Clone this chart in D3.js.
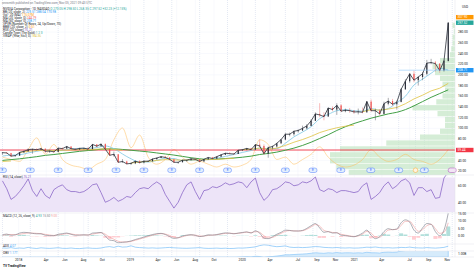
<!DOCTYPE html>
<html>
<head>
<meta charset="utf-8">
<script src="https://cdn.jsdelivr.net/npm/d3@7"></script>
<style>
body { margin: 0; background: #fff; }
svg { display: block; font-family: Roboto, "Liberation Sans", sans-serif; }
</style>
</head>
<body>
<div id="chart"></div>
<script>
// biweekly bars, NVDA split adjusted, first bar 2017-11-09
var barStart = "2017-11-09";
var closes = [54.5,54,48,49,55,57,60,61,60,62,57,57.5,56,63,62,66,62,60.5,62.5,63,61,70,66.5,70.5,61,49.5,51.5,36.5,38,33.5,
  34.5,38.5,36,38.5,38.5,42.5,44.5,47,45.5,42,36.5,36.5,40.5,40.5,43,42,38,42,45.5,43.5,47,50.5,53.5,52.5,52,59,
  60,62.5,60,69.5,67,52.5,64,66,72,79,89,89,94.5,96,100,104.5,114,127,125,122,138,135,143,132,134,133,130.5,
  131,130,150,133,133,127,146,151,145,149,173,188,202,190,196,202,222,223,221,208,226,297.5];
var highs = [55.5,55,50.5,49.5,55.5,58.5,62.5,62,63,63.5,62,58.5,57.5,64,64.5,67,66.5,62.5,63.5,63.5,65,70.5,70,72,72,62,56.5,51.5,42.5,39.5,
  36,39.5,40.5,40.5,40,44,45.5,48,48.5,46,43,37.5,41,41.5,43.5,44.5,42,42.5,46,46.5,47.5,51.5,54,55.5,53.5,59.5,
  60.5,63,63.5,70,79,70,66,68,73,80,91.5,92,96,98,105,108,117,130,147,130,139,141,147,145,137,138,134,
  137,139,151,154,137,136,150,157,155,152,175,192,203,208,198,205,228,230,226,222,228,298.5];
var lows = [50.5,52.5,46.5,47,48.5,54,56.5,52.5,58.5,59,53.5,54,53.5,56,61,62,61.5,59,60,60.5,60,61.5,65,66,60,49,47,35.5,36,32.5,
  31.5,33,33.5,34,38,38,41,44.5,44,40.5,35.5,33.5,36.5,37.5,40,40.5,36.5,37.5,41.5,42.5,42.5,46.5,50,51.5,50.5,52,
  57.5,59,59,60.5,64,51.5,45,60.5,64,70.5,78,85,86,92,95,98,104,115,121,115,122,132,125,131,130,129,127,
  126,128,129,131,115,124,126,143,142,135,150,172,185,186,180,190,199,220,206,204,206,225];

// readings taken every 4 weeks (every second bar)
var ma50 = [48,50,50.5,54,57,59.5,58,58.5,62,62.5,62.5,64,67,62,52,43,37,37,40,44,43.5,39.5,40,41,41.5,44,47.5,51,
  55,58.5,63,62,62,72,84,93,103,118,126,133,135,133,132,137,134,137,148,160,181,192,203,212,209];
var ma200 = [40,41.5,43,45,47,49.5,51,53,55,57,58.5,60,61.5,61.5,60.5,59,57.5,56,54,52,50,47.5,45,43,42,42.5,43.5,44.5,
  46,48,51,53,55.5,59,63,68,74,81,88,96,103,109,114,119,123,127,130,135,142,150,158,165,172];
var vwap = [38,39,55,57,58.5,59,58.5,59,59.5,60,60,61,61.5,60.5,59,35,37,38,40,41.5,41,40.5,41,41,41.5,42,43,44,
  60,61,63,61,63,68,74,79,85,92,97,101,104,106,131,135,134,136,139,146,155,162,170,175,184];
var bbw = [0.38,0.33,0.29,0.54,0.79,0.44,0.65,0.33,0.21,0.17,0.12,0.23,0.33,0.75,1.0,0.58,0.85,0.38,0.23,0.33,0.54,0.38,0.23,0.29,
  0.23,0.17,0.23,0.17,0.21,0.33,0.75,0.65,0.33,0.38,0.23,0.33,0.44,0.60,0.38,0.23,0.17,0.21,0.33,0.54,0.38,0.29,0.33,0.44,0.33,0.29,0.23,0.33,0.54];

var rsi = [66.1,57,44.6,48,53.7,60.4,68.3,54.8,48,57,49.2,45.8,55.9,59.3,61.5,55.9,53.7,53.7,52.5,53.7,57,61.5,62.7,52.5,41.3,43.5,46.9,42.4,44.6,48,
  46.9,52.5,57,58.2,57,61.5,64.9,61.5,50.3,42.4,34.5,41.3,52.5,61.5,64.9,53.7,44.6,54.8,55.9,59.3,58.2,60.4,63.8,61.5,62.7,64.9,
  63.8,58.2,64.9,69.4,52.5,43.5,48,55.9,57,60.4,64.9,63.8,60.4,61.5,64.9,63.8,66.1,70.6,55.9,53.7,57,55.9,52.5,54.8,54.8,53.7,52.5,
  53.7,60.4,63.8,44.6,48,52.5,60.4,64.9,57,60.4,66.1,68.3,63.8,49.2,58.2,58.2,53.7,55.9,45.8,46.9,69.4,76.2];
var macd = [0.7,1.3,0.5,0.8,2,2.5,2.3,1.8,1.5,1.5,0.5,0.3,0.2,1.2,1.6,2,1.2,0.5,0.6,0.8,0.6,2,2.2,2.4,0,-2.8,-3.2,-4.6,-4.3,-4,
  -3.4,-2.4,-1.6,-0.7,0.2,1,1.6,1.8,1,-0.4,-1.6,-1.2,0,0.6,0.9,0.4,-0.4,0,0.8,0.6,1,1.6,2.1,1.9,1.5,2,
  2.4,2.8,2,3.5,2,-1.5,-1.8,-0.5,1.2,2.5,4,3.8,3.4,3.4,3.8,5.2,7,8.5,5.5,2.5,3,2,2.2,0.5,0.3,-0.2,-0.5,
  0.4,2,4,0.5,-1.8,-0.5,3,5,4.3,4.8,9,11,9.5,4,2,5.5,8.5,8,3,0.2,4,15.5];
var signal = [0.5,0.8,1,0.9,1.2,1.7,2,2,1.8,1.6,1.1,0.7,0.4,0.7,1.1,1.6,1.4,0.9,0.7,0.7,0.7,1.3,1.8,2.2,1.2,-0.8,-2.2,-3.6,-4.1,-4.1,
  -3.7,-2.9,-2.1,-1.2,-0.4,0.5,1.2,1.6,1.3,0.4,-0.9,-1.2,-0.5,0.3,0.7,0.6,0,-0.1,0.4,0.6,0.8,1.3,1.8,1.9,1.7,1.8,
  2.2,2.6,2.3,3,2.5,0.2,-1.3,-1,0.4,1.8,3.2,3.7,3.5,3.4,3.6,4.6,6.2,7.8,6.8,3.8,3,2.4,2.2,1.2,0.6,0.1,-0.3,
  0,1.2,3.1,2,-0.6,-0.8,1.5,4,4.4,4.6,7.2,10,10,6.5,3.2,4.3,7,8,5,1.8,2.6,9];
var adx = [2.1,1.8,2.4,1.6,2.0,1.7,2.6,1.9,1.5,2.2,1.8,1.6,1.9,2.3,1.7,1.6,2.0,1.5,1.4,1.8,2.1,1.7,1.6,2.0,2.9,3.4,2.6,3.8,2.9,3.1,
  4.2,2.8,2.4,2.2,1.9,2.1,1.8,2.0,2.3,2.6,2.2,2.0,1.8,1.7,1.9,2.1,2.4,1.8,1.6,1.7,1.9,1.6,1.8,1.5,1.6,2.0,
  1.9,2.2,2.6,3.1,4.4,5.2,4.8,3.9,3.3,3.6,4.1,2.9,2.5,2.7,2.4,2.6,3.0,3.4,3.2,2.6,2.4,2.2,2.5,2.1,2.0,2.2,1.9,
  2.0,2.3,2.8,2.6,3.0,2.4,2.1,2.3,2.0,2.2,2.6,2.4,2.9,2.3,2.1,2.0,2.4,2.1,1.9,2.2,2.6,3.8];
var obv = [-2.2,-2.2,-2.25,-2.25,-2.2,-2.2,-2.15,-2.2,-2.2,-2.15,-2.2,-2.2,-2.2,-2.15,-2.15,-2.1,-2.15,-2.15,-2.1,-2.1,-2.15,-2.1,-2.1,-2.05,-2.2,-2.35,-2.35,-2.5,-2.45,-2.55,
  -2.5,-2.4,-2.45,-2.4,-2.4,-2.3,-2.25,-2.2,-2.25,-2.3,-2.4,-2.4,-2.3,-2.3,-2.25,-2.25,-2.3,-2.25,-2.2,-2.2,-2.1,-2.0,-1.95,-1.95,-1.95,-1.85,
  -1.8,-1.75,-1.8,-1.65,-1.7,-1.9,-1.75,-1.7,-1.6,-1.5,-1.35,-1.35,-1.3,-1.25,-1.2,-1.15,-1.05,-0.95,-1.0,-1.05,-0.95,-1.0,-0.9,-1.0,-0.95,-0.95,-1.0,
  -0.95,-1.0,-0.85,-0.95,-0.95,-1.0,-0.85,-0.8,-0.85,-0.8,-0.6,-0.5,-0.4,-0.5,-0.45,-0.4,-0.25,-0.25,-0.3,-0.35,-0.25,0.05];

// volume profile rows, bottom to top
var vpLow = 12, vpStep = 11;
var vpRows = [0.85,0.95,1,1,0.92,0.55,0.28,0.12,0.08,0.08,0.14,0.34,0.15,0.1,0.08,0.1,0.12,0.16,0.18,0.12,0.04,0.03,0.02,0.02,0.01,0.02];

var earnings = ["2017-11-09","2018-02-08","2018-05-10","2018-08-16","2018-11-15","2019-02-14","2019-05-16","2019-08-15",
  "2019-11-14","2020-02-13","2020-05-21","2020-08-19","2020-11-18","2021-02-24","2021-05-26","2021-08-18"];
var nextEarnings = "2021-11-17";
var splitDate = "2021-07-20";
var redLevel = 59.44;
var blueLevel = 208.71;

var tickDates = ["2018-01-01","2018-04-01","2018-06-01","2018-08-01","2018-10-01","2019-01-01","2019-04-01","2019-06-01","2019-08-01","2019-10-01",
  "2020-01-01","2020-04-01","2020-07-01","2020-09-01","2020-11-01","2021-01-01","2021-04-01","2021-07-01","2021-09-01","2021-11-01"];
var tickLabels = ["2018","Apr","Jun","Aug","Oct","2019","Apr","Jun","Aug","Oct","2020","Apr","Jul","Sep","Nov","2021","Apr","Jul","Sep","Nov"];
var priceTicks = [20,40,60,80,100,120,140,160,180,200,220,240,260,280];
var rsiTicks = [40, 60, 80];
var macdTicks = [0, 5, 10, 15];

// legend: [label, value text, value colour]
var legend = [
  ["NVIDIA Corporation · 1D, NASDAQ", "O 270.05  H 298.50  L 268.35  C 297.52  +32.23 (+12.15%)", "#26a69a"],
  ["BB (20, close, 2)", "229.51  288.04  170.98", "#2196f3"],
  ["Vol · 20  (MA)", "115.07M", "#ff9800"],
  ["MA (20, close, 0)", "244.79", "#ef5350"],
  ["MA (50, close, 0)", "208.71", "#2196f3"],
  ["VPVR (Number Of Rows, 24, Up/Down, 70)", "", "#131722"],
  ["BBW (20, close, 2)", "0.51", "#ff9800"],
  ["RSX (20, close)", "76.21", "#7e57c2"],
  ["Candle Type (The Gold)", "1  2  3", "#26a69a"],
  ["VWAP (Year, hlc3, 0)", "184.36", "#e0c341"]
];

var W = 474, H = 271, R = 455;
var parse = d3.timeParse("%Y-%m-%d");
var x = d3.scaleTime().domain([new Date(2017, 10, 1), new Date(2021, 10, 26)]).range([0, R]);
var dates = closes.map(function(d, i) { return d3.timeDay.offset(parse(barStart), 14 * i); });
var dates4 = ma50.map(function(d, i) { return dates[2 * i]; });

var main = {top: 0, bottom: 175};
var rp = {top: 175, bottom: 213};
var mp = {top: 213, bottom: 244};
var ap = {top: 244, bottom: 251};
var op = {top: 251, bottom: 257};

var y = d3.scaleLinear().domain([0, 340]).range([181.8, 0]);
var yr = d3.scaleLinear().domain([30, 70]).range([212, 177.5]);
var ym = d3.scaleLinear().domain([0, 15]).range([236, 214]);
var ya = d3.scaleLinear().domain([0, 6]).range([250, 244]);
var yo = d3.scaleLinear().domain([-2, 0.2]).range([258, 247]);
var yb = d3.scaleLinear().domain([0, 1]).range([175, 128]);

var svg = d3.select("#chart").append("svg")
    .attr("width", W)
    .attr("height", H);

svg.append("rect").attr("width", W).attr("height", H).attr("fill", "#fff");

var defs = svg.append("defs");
[["cMain", main], ["cRsi", rp], ["cMacd", mp], ["cAdx", ap], ["cObv", op]].forEach(function(c) {
  defs.append("clipPath").attr("id", c[0]).append("rect")
    .attr("x", 0).attr("y", c[1].top).attr("width", R).attr("height", c[1].bottom - c[1].top);
});

// grid
var grid = svg.append("g");
grid.selectAll(".hg").data(priceTicks).enter().append("line")
    .attr("x1", 0).attr("x2", R)
    .attr("y1", function(d) { return y(d); }).attr("y2", function(d) { return y(d); })
    .attr("stroke", "#f0f3fa").attr("stroke-width", 0.5);
grid.selectAll(".vg").data(tickDates).enter().append("line")
    .attr("x1", function(d) { return x(parse(d)); }).attr("x2", function(d) { return x(parse(d)); })
    .attr("y1", 0).attr("y2", op.bottom)
    .attr("stroke", "#f0f3fa").attr("stroke-width", 0.5);
grid.selectAll(".eg").data(earnings.concat([splitDate, nextEarnings])).enter().append("line")
    .attr("x1", function(d) { return x(parse(d)); }).attr("x2", function(d) { return x(parse(d)); })
    .attr("y1", 0).attr("y2", op.bottom)
    .attr("stroke", "#c9d3e6").attr("stroke-width", 0.5).attr("stroke-dasharray", "1,1");

// main pane
var g = svg.append("g").attr("clip-path", "url(#cMain)");

// volume profile
g.selectAll(".vp").data(vpRows).enter().append("rect")
    .attr("x", function(d) { return R - d * 125; })
    .attr("width", function(d) { return d * 125; })
    .attr("y", function(d, i) { return y(vpLow + (i + 1) * vpStep) + 0.3; })
    .attr("height", function(d, i) { return y(vpLow + i * vpStep) - y(vpLow + (i + 1) * vpStep) - 0.6; })
    .attr("fill", "#c3e6c5").attr("opacity", 0.7);

// BBW overlay
g.append("path").datum(bbw)
    .attr("fill", "none").attr("stroke", "#ffb74d").attr("stroke-width", 0.6).attr("opacity", 0.8)
    .attr("d", d3.line().curve(d3.curveMonotoneX)
      .x(function(d, i) { return x(dates4[i]); }).y(function(d) { return yb(d); }));

// red level
g.append("line").attr("x1", 0).attr("x2", R).attr("y1", y(redLevel)).attr("y2", y(redLevel))
    .attr("stroke", "#f23645").attr("stroke-width", 0.9);

var maLine = function(arr, color, w) {
  g.append("path").datum(arr)
    .attr("fill", "none").attr("stroke", color).attr("stroke-width", w)
    .attr("d", d3.line().curve(d3.curveMonotoneX)
      .x(function(d, i) { return x(dates4[i]); }).y(function(d) { return y(d); }));
};
maLine(ma200, "#43a047", 1);
maLine(ma50, "#7ec8e3", 0.8);

// yearly VWAP, one segment per year
var years = d3.groups(vwap.map(function(v, i) { return {d: dates4[i], v: v}; }), function(p) { return p.d.getFullYear(); });
years.forEach(function(yr0) {
  g.append("path").datum(yr0[1])
    .attr("fill", "none").attr("stroke", "#e0c341").attr("stroke-width", 0.8)
    .attr("d", d3.line().x(function(p) { return x(p.d); }).y(function(p) { return y(p.v); }));
});

// candles
var upDown = function(d, i) { return i > 0 && d < closes[i - 1] ? "#ef5350" : "#2a2e39"; };
var bars = g.selectAll(".bar").data(closes).enter().append("g");
bars.append("line")
    .attr("x1", function(d, i) { return x(dates[i]); }).attr("x2", function(d, i) { return x(dates[i]); })
    .attr("y1", function(d, i) { return y(highs[i]); }).attr("y2", function(d, i) { return y(lows[i]); })
    .attr("stroke", upDown).attr("stroke-width", 0.4);
bars.append("rect")
    .attr("x", function(d, i) { return x(dates[i]) - 0.6; })
    .attr("width", 1.2)
    .attr("y", function(d, i) { var o = i > 0 ? closes[i - 1] : d; return y(Math.max(o, d)); })
    .attr("height", function(d, i) { var o = i > 0 ? closes[i - 1] : d; return Math.max(0.5, Math.abs(y(o) - y(d))); })
    .attr("fill", upDown);
g.append("path").datum(closes)
    .attr("fill", "none").attr("stroke", "#2a2e39").attr("stroke-width", 0.8)
    .attr("d", d3.line().x(function(d, i) { return x(dates[i]); }).y(function(d) { return y(d); }));

g.append("line").attr("x1", x(parse("2021-05-26"))).attr("x2", R).attr("y1", y(blueLevel)).attr("y2", y(blueLevel))
    .attr("stroke", "#90caf9").attr("stroke-width", 0.6);

// event icons
var icons = svg.append("g");
earnings.forEach(function(d) {
  var cx = x(parse(d));
  icons.append("rect").attr("x", cx - 4).attr("y", 168).attr("width", 8).attr("height", 4.5).attr("rx", 2)
    .attr("fill", "#e3effd").attr("stroke", "#2962ff").attr("stroke-width", 0.4);
  icons.append("text").attr("x", cx).attr("y", 171.4).attr("text-anchor", "middle")
    .attr("font-size", 3).attr("fill", "#2962ff").text("E");
});
icons.append("circle").attr("cx", x(parse(splitDate))).attr("cy", 170.2).attr("r", 2.3)
    .attr("fill", "#fff3e0").attr("stroke", "#ff9800").attr("stroke-width", 0.4);
icons.append("rect").attr("x", x(parse(nextEarnings)) - 4).attr("y", 168).attr("width", 8).attr("height", 4.5).attr("rx", 2)
    .attr("fill", "#f3e5f5").attr("stroke", "#9c27b0").attr("stroke-width", 0.4);

// RSI pane
var gr = svg.append("g");
gr.append("rect").attr("x", 0).attr("width", R).attr("y", yr(70)).attr("height", yr(30) - yr(70)).attr("fill", "#ede4f8");
gr.append("path").datum(rsi).attr("clip-path", "url(#cRsi)")
    .attr("fill", "none").attr("stroke", "#7e57c2").attr("stroke-width", 0.7)
    .attr("d", d3.line().x(function(d, i) { return x(dates[i]); }).y(function(d) { return yr(d); }));

// MACD pane
var gm = svg.append("g").attr("clip-path", "url(#cMacd)");
gm.selectAll(".hist").data(macd).enter().append("rect")
    .attr("x", function(d, i) { return x(dates[i]) - 2; })
    .attr("width", 4)
    .attr("y", function(d, i) { return Math.min(ym(0), ym(d - signal[i])); })
    .attr("height", function(d, i) { return Math.abs(ym(d - signal[i]) - ym(0)); })
    .attr("fill", function(d, i) { return d - signal[i] >= 0 ? "#b2dfdb" : "#ffcdd2"; });
gm.append("path").datum(signal).attr("fill", "none").attr("stroke", "#ef9a9a").attr("stroke-width", 0.6)
    .attr("d", d3.line().curve(d3.curveMonotoneX).x(function(d, i) { return x(dates[i]); }).y(function(d) { return ym(d); }));
gm.append("path").datum(macd).attr("fill", "none").attr("stroke", "#787b86").attr("stroke-width", 0.6)
    .attr("d", d3.line().curve(d3.curveMonotoneX).x(function(d, i) { return x(dates[i]); }).y(function(d) { return ym(d); }));

// ADX / OBV panes
svg.append("path").datum(adx).attr("clip-path", "url(#cAdx)")
    .attr("fill", "none").attr("stroke", "#42a5f5").attr("stroke-width", 0.5)
    .attr("d", d3.line().x(function(d, i) { return x(dates[i]); }).y(function(d) { return ya(d); }));
svg.append("path").datum(obv).attr("clip-path", "url(#cObv)")
    .attr("fill", "#d6ebfb").attr("stroke", "#64b5f6").attr("stroke-width", 0.5)
    .attr("d", d3.area().x(function(d, i) { return x(dates[i]); }).y0(op.bottom).y1(function(d) { return yo(d); }));

// pane borders
[rp.top, mp.top, ap.top, op.top, op.bottom].forEach(function(v) {
  svg.append("line").attr("x1", 0).attr("x2", W).attr("y1", v).attr("y2", v).attr("stroke", "#e0e3eb").attr("stroke-width", 0.5);
});
svg.append("line").attr("x1", R).attr("x2", R).attr("y1", 0).attr("y2", op.bottom).attr("stroke", "#e0e3eb").attr("stroke-width", 0.5);

// right axis
var ax = svg.append("g").attr("font-size", 3.2).attr("fill", "#131722");
ax.selectAll(".pt").data(priceTicks).enter().append("text")
    .attr("x", R + 3).attr("y", function(d) { return y(d) + 1.1; }).text(function(d) { return d3.format(".2f")(d); });
ax.append("text").attr("x", R + 7).attr("y", 8).text("USD");
var tag = function(v, fill, label, sc) {
  ax.append("rect").attr("x", R + 1).attr("y", sc(v) - 2.2).attr("width", 17.5).attr("height", 4.4).attr("fill", fill);
  ax.append("text").attr("x", R + 2.5).attr("y", sc(v) + 1.1).attr("fill", "#fff").text(label);
};
tag(307.9, "#ff9800", "307.90", y);
tag(297.52, "#26a69a", "297.52", y);
tag(blueLevel, "#2196f3", "208.71", y);
tag(redLevel, "#f23645", "59.44", y);
rsiTicks.forEach(function(v) {
  if (yr(v) > rp.top + 4) ax.append("text").attr("x", R + 3).attr("y", yr(v) + 1.1).text(d3.format(".2f")(v));
});
macdTicks.forEach(function(v) {
  ax.append("text").attr("x", R + 3).attr("y", ym(v) + 1.1).text(d3.format(".2f")(v));
});
ax.append("text").attr("x", R + 3).attr("y", 255).text("1.00B");

// time axis
svg.append("g").attr("font-size", 3.2).attr("fill", "#131722")
  .selectAll("text").data(tickDates).enter().append("text")
    .attr("x", function(d) { return x(parse(d)); }).attr("y", 261).attr("text-anchor", "middle")
    .text(function(d, i) { return tickLabels[i]; });

// legend
var lg = svg.append("g").attr("font-size", 3.1).attr("fill", "#131722");
lg.append("text").attr("x", 2).attr("y", 4).attr("fill", "#787b86")
    .text("cnnsmith published on TradingView.com, Nov 05, 2021 09:43 UTC");
var lt = lg.selectAll(".lt").data(legend).enter().append("text")
    .attr("x", 3).attr("y", function(d, i) { return 10 + i * 2.95; });
lt.append("tspan").text(function(d) { return d[0] + "  "; });
lt.append("tspan").attr("fill", function(d) { return d[2]; }).text(function(d) { return d[1]; });

var sub = svg.append("g").attr("font-size", 3.1).attr("fill", "#131722");
sub.append("text").attr("x", 3).attr("y", 177.8).text("RSI (14, close)  ").append("tspan").attr("fill", "#7e57c2").text("76.21");
var mt = sub.append("text").attr("x", 3).attr("y", 216.8).text("MACD (12, 26, close, 9)  ");
mt.append("tspan").attr("fill", "#26a69a").text("4.93  ");
mt.append("tspan").attr("fill", "#787b86").text("15.50  ");
mt.append("tspan").attr("fill", "#ef9a9a").text("9.00");
sub.append("text").attr("x", 3).attr("y", 247).text("ADX  ").append("tspan").attr("fill", "#42a5f5").text("4.07");
sub.append("text").attr("x", 3).attr("y", 254).text("OBV  ").append("tspan").attr("fill", "#42a5f5").text("1.17T");
svg.append("text").attr("x", 3).attr("y", 267).attr("font-size", 3.2).attr("font-weight", "bold").attr("fill", "#131722").text("TV TradingView");
</script>
</body>
</html>
